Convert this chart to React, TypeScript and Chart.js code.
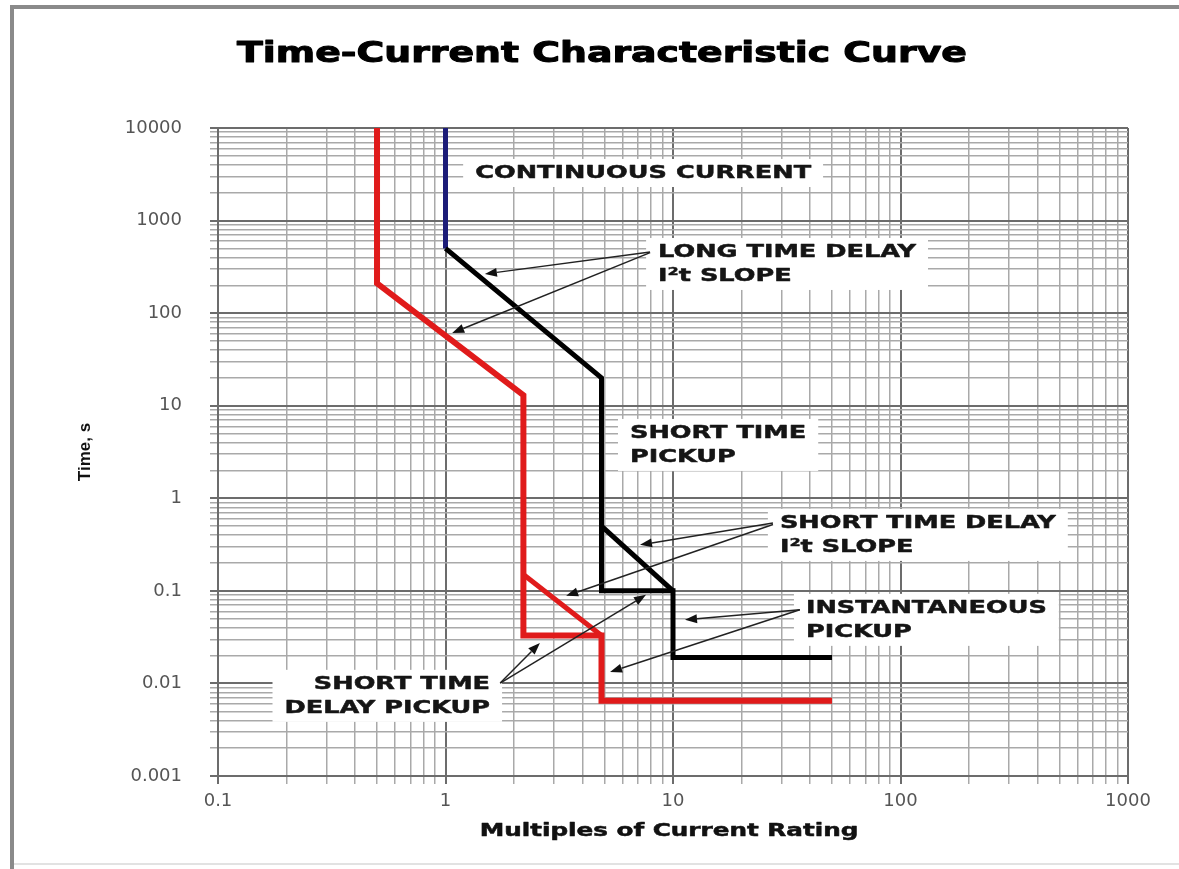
import React, { useEffect, useRef } from 'react';
import { Chart, registerables } from 'chart.js';

Chart.register(...registerables);

// ---------- data ----------
const TITLE = 'Time-Current Characteristic Curve';
const X_TITLE = 'Multiples of Current Rating';
const Y_TITLE = 'Time, s';

const xDecades = [0.1, 1, 10, 100, 1000];
const xTickLabels = ['0.1', '1', '10', '100', '1000'];
const yDecades = [0.001, 0.01, 0.1, 1, 10, 100, 1000, 10000];
const yTickLabels = ['0.001', '0.01', '0.1', '1', '10', '100', '1000', '10000'];

// continuous current (blue)
const blueX = [1, 1];
const blueY = [10000, 500];
// black breaker curve
const blackX = [1, 4.85, 4.85, 10, 10, 50];
const blackY = [500, 20, 0.1, 0.1, 0.019, 0.019];
const blackDiagX = [4.85, 10];
const blackDiagY = [0.5, 0.1];
// red breaker curve
const redX = [0.5, 0.5, 2.2, 2.2, 4.85, 4.85, 50];
const redY = [10000, 210, 13, 0.033, 0.033, 0.0065, 0.0065];
const redDiagX = [2.2, 4.85];
const redDiagY = [0.15, 0.033];

// annotation labels (anchor in data units)
const labelTexts = [
  ['CONTINUOUS CURRENT'],
  ['LONG TIME DELAY', 'I\u00B2t SLOPE'],
  ['SHORT TIME', 'PICKUP'],
  ['SHORT TIME DELAY', 'I\u00B2t SLOPE'],
  ['INSTANTANEOUS', 'PICKUP'],
  ['SHORT TIME', 'DELAY PICKUP'],
];
const labelX = [1.35, 8.6, 6.47, 29.5, 38.4, 1.57];
const labelY = [3266, 458, 5.08, 0.542, 0.0655, 0.0099];
const labelAlign = ['left', 'left', 'left', 'left', 'left', 'right'];

// annotation arrows (tail -> head, data units)
const arrowFromX = [7.93, 7.93, 27.5, 27.5, 1.74, 1.74, 36.1, 36.1];
const arrowFromY = [458, 450, 0.542, 0.52, 0.0101, 0.0101, 0.0624, 0.0624];
const arrowToX = [1.49, 1.07, 7.16, 3.39, 2.6, 7.61, 11.29, 5.29];
const arrowToY = [265, 61, 0.314, 0.0883, 0.0274, 0.0906, 0.0486, 0.0133];

// ---------- helpers ----------
const pts = (xs: number[], ys: number[]) => xs.map((x, i) => ({ x, y: ys[i] }));

const isDecade = (v: number) => {
  const l = Math.log10(v);
  return Math.abs(l - Math.round(l)) < 1e-6;
};

const logTicks = (min: number, max: number) => {
  const out: { value: number }[] = [];
  const e0 = Math.round(Math.log10(min));
  const e1 = Math.round(Math.log10(max));
  for (let e = e0; e < e1; e++) {
    for (let m = 1; m < 10; m++) out.push({ value: parseFloat((m * Math.pow(10, e)).toPrecision(6)) });
  }
  out.push({ value: max });
  return out;
};

const labelFor = (decs: number[], labels: string[]) => (v: number) => {
  const i = decs.findIndex((d) => Math.abs(Math.log10(d) - Math.log10(v)) < 1e-6);
  return i >= 0 ? labels[i] : '';
};

function stretchedText(
  ctx: CanvasRenderingContext2D,
  text: string,
  x: number,
  y: number,
  font: string,
  sx: number,
  align: CanvasTextAlign,
  color: string,
  stroke = 0
) {
  ctx.save();
  ctx.translate(x, y);
  ctx.scale(sx, 1);
  ctx.font = font;
  ctx.fillStyle = color;
  ctx.textAlign = align;
  ctx.textBaseline = 'middle';
  ctx.fillText(text, 0, 0);
  if (stroke > 0) {
    ctx.strokeStyle = color;
    ctx.lineWidth = stroke;
    ctx.lineJoin = 'round';
    ctx.strokeText(text, 0, 0);
  }
  ctx.restore();
}

const ANN_FONT = 'bold 18px "DejaVu Sans"';
const ANN_SX = 1.42;
const ANN_LINE = 24;

const decorPlugin = {
  id: 'decor',
  beforeDraw(chart: any) {
    const { ctx, width, height } = chart;
    ctx.save();
    ctx.fillStyle = '#ffffff';
    ctx.fillRect(0, 0, width, height);
    ctx.strokeStyle = '#8a8a8a';
    ctx.lineWidth = 4;
    ctx.beginPath();
    ctx.moveTo(12, height);
    ctx.lineTo(12, 7);
    ctx.lineTo(width, 7);
    ctx.stroke();
    ctx.strokeStyle = '#e2e2e2';
    ctx.lineWidth = 2;
    ctx.beginPath();
    ctx.moveTo(14, 864);
    ctx.lineTo(width, 864);
    ctx.stroke();
    ctx.restore();
    stretchedText(ctx, TITLE, 602, 55, 'bold 28px "DejaVu Sans"', 1.35, 'center', '#000', 1);
    const { left, right } = chart.chartArea;
    stretchedText(ctx, X_TITLE, (left + right) / 2 - 4, 832, 'bold 17px "DejaVu Sans"', 1.45, 'center', '#111', 0.5);
  },
  beforeDatasetsDraw(chart: any) {
    const { ctx } = chart;
    const xs = chart.scales.x;
    const ys = chart.scales.y;
    ctx.save();
    ctx.font = ANN_FONT;
    labelTexts.forEach((lines, i) => {
      const px = xs.getPixelForValue(labelX[i]);
      const py = ys.getPixelForValue(labelY[i]);
      const w = Math.max(...lines.map((l) => ctx.measureText(l).width)) * ANN_SX;
      const l = labelAlign[i] === 'right' ? px - w : px;
      ctx.fillStyle = '#ffffff';
      ctx.fillRect(l - 12, py - 14, w + 24, (lines.length - 1) * ANN_LINE + 28);
    });
    ctx.restore();
  },
  afterDatasetsDraw(chart: any) {
    const { ctx } = chart;
    const xs = chart.scales.x;
    const ys = chart.scales.y;
    labelTexts.forEach((lines, i) => {
      const px = xs.getPixelForValue(labelX[i]);
      const py = ys.getPixelForValue(labelY[i]);
      lines.forEach((t, j) => {
        stretchedText(ctx, t, px, py + j * ANN_LINE, ANN_FONT, ANN_SX, labelAlign[i] as CanvasTextAlign, '#151515', 0.5);
      });
    });
    ctx.save();
    ctx.strokeStyle = '#222';
    ctx.fillStyle = '#111';
    ctx.lineWidth = 1.5;
    arrowFromX.forEach((_, i) => {
      const x0 = xs.getPixelForValue(arrowFromX[i]);
      const y0 = ys.getPixelForValue(arrowFromY[i]);
      const x1 = xs.getPixelForValue(arrowToX[i]);
      const y1 = ys.getPixelForValue(arrowToY[i]);
      const a = Math.atan2(y1 - y0, x1 - x0);
      const L = 12;
      const W = 4.5;
      const bx = x1 - L * Math.cos(a);
      const by = y1 - L * Math.sin(a);
      ctx.beginPath();
      ctx.moveTo(x0, y0);
      ctx.lineTo(bx, by);
      ctx.stroke();
      ctx.beginPath();
      ctx.moveTo(x1, y1);
      ctx.lineTo(bx + W * Math.sin(a), by - W * Math.cos(a));
      ctx.lineTo(bx - W * Math.sin(a), by + W * Math.cos(a));
      ctx.closePath();
      ctx.fill();
    });
    ctx.restore();
  },
};

const gridColor = (c: any) => (c.tick && isDecade(c.tick.value) ? '#6c6c6c' : '#a9a9a9');
const gridWidth = (c: any) => (c.tick && isDecade(c.tick.value) ? 2 : 1.5);

export default function App() {
  const ref = useRef<HTMLCanvasElement>(null);

  useEffect(() => {
    document.body.style.margin = '0';
    const lineDs = (label: string, data: any[], color: string, width: number) => ({
      label,
      data,
      showLine: true,
      borderColor: color,
      backgroundColor: color,
      borderWidth: width,
      pointRadius: 0,
      fill: false,
      tension: 0,
      borderJoinStyle: 'miter' as const,
      borderCapStyle: 'butt' as const,
    });

    const chart = new Chart(ref.current!, {
      type: 'scatter',
      data: {
        datasets: [
          lineDs('Breaker B', pts(redX, redY), '#e01b1b', 6),
          lineDs('Breaker B STD slope', pts(redDiagX, redDiagY), '#e01b1b', 5),
          lineDs('Breaker A', pts(blackX, blackY), '#000000', 5),
          lineDs('Breaker A STD slope', pts(blackDiagX, blackDiagY), '#000000', 5),
          lineDs('Continuous current', pts(blueX, blueY), '#1c1c78', 5),
        ],
      },
      options: {
        responsive: true,
        maintainAspectRatio: false,
        animation: false,
        layout: { padding: { top: 128, right: 51, left: 0, bottom: 0 } },
        plugins: {
          legend: { display: false },
          tooltip: { enabled: false },
          title: { display: false },
        },
        scales: {
          x: {
            type: 'logarithmic',
            min: 0.1,
            max: 1000,
            afterBuildTicks: (s: any) => {
              s.ticks = logTicks(0.1, 1000);
            },
            afterFit: (s: any) => {
              s.height = 93;
            },
            ticks: {
              autoSkip: false,
              maxRotation: 0,
              padding: 7,
              color: '#555',
              font: { family: 'DejaVu Sans', size: 18 },
              callback: (v: any) => labelFor(xDecades, xTickLabels)(Number(v)),
            },
            grid: { color: gridColor, lineWidth: gridWidth, tickLength: 8 },
            border: { display: true, color: '#6c6c6c', width: 2 },
          },
          y: {
            type: 'logarithmic',
            min: 0.001,
            max: 10000,
            afterBuildTicks: (s: any) => {
              s.ticks = logTicks(0.001, 10000);
            },
            afterFit: (s: any) => {
              s.width = 218;
            },
            ticks: {
              autoSkip: false,
              padding: 28,
              color: '#555',
              font: { family: 'DejaVu Sans', size: 18 },
              callback: (v: any) => labelFor(yDecades, yTickLabels)(Number(v)),
            },
            grid: { color: gridColor, lineWidth: gridWidth, tickLength: 8 },
            border: { display: true, color: '#6c6c6c', width: 2 },
            title: {
              display: true,
              text: Y_TITLE,
              color: '#111',
              font: { family: 'Liberation Sans', weight: 'bold', size: 17 },
              padding: { top: 75, bottom: 0 },
            },
          },
        },
      },
      plugins: [decorPlugin],
    });
    return () => chart.destroy();
  }, []);

  return (
    <div style={{ width: 1179, height: 869, position: 'relative' }}>
      <canvas ref={ref} />
    </div>
  );
}
